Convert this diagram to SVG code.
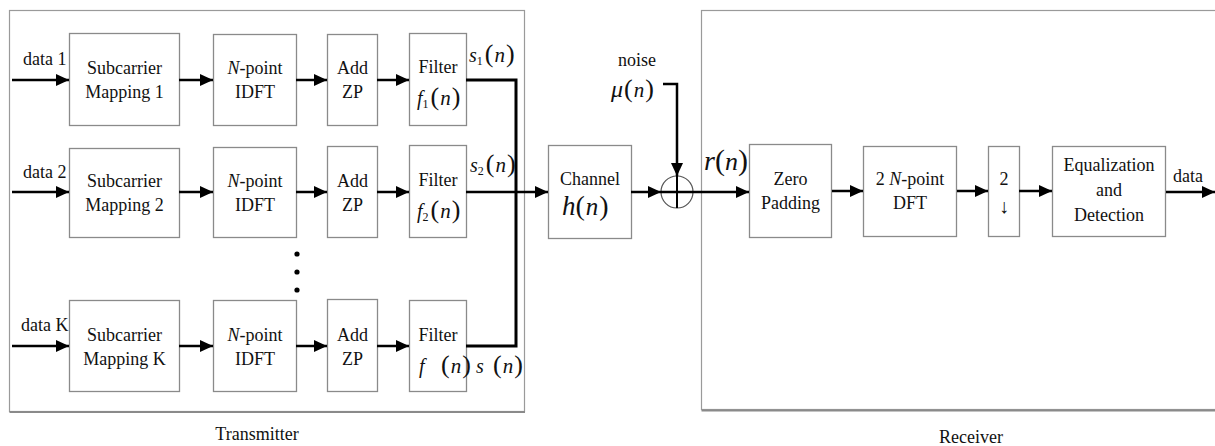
<svg xmlns="http://www.w3.org/2000/svg" width="1215" height="446" viewBox="0 0 1215 446" font-family="'Liberation Serif', 'DejaVu Serif', serif">
<style>
  text { font-family: "Liberation Serif", "DejaVu Serif", serif; fill: #111; }
  .t { font-size: 18px; }
  .c { text-anchor: middle; }
  .it { font-style: italic; }
  .box { fill: #fff; stroke: #8a8a8a; stroke-width: 1.3; }
  .frame { fill: none; stroke: #9a9a9a; stroke-width: 1.2; }
  .shadow { stroke: #8a8a8a; stroke-width: 2; }
  .wire { fill: none; stroke: #000; stroke-width: 2.5; }
  .arr { fill: none; stroke: #000; stroke-width: 2.5; marker-end: url(#ah); }
  .par { font-size: 26px; }
  .mn { font-size: 21px; font-style: italic; }
</style>
<defs>
  <marker id="ah" markerUnits="userSpaceOnUse" viewBox="0 0 13 12" refX="13" refY="6" markerWidth="13" markerHeight="12" orient="auto">
    <path d="M0,0 L13,6 L0,12 z" fill="#000"/>
  </marker>
</defs>
<rect width="1215" height="446" fill="#fff"/>

<!-- frames -->
<g id="transmitter">
  <rect class="frame" x="9.5" y="10.5" width="515" height="401"/>
  <line class="shadow" x1="9.5" y1="412" x2="525" y2="412"/>
  <text class="t c" x="257" y="440">Transmitter</text>
</g>
<g id="receiver">
  <rect class="frame" x="701.5" y="10.5" width="520" height="399"/>
  <line class="shadow" x1="701.5" y1="410.5" x2="1215" y2="410.5"/>
  <text class="t c" x="971" y="443">Receiver</text>
</g>

<!-- row 1 -->
<g id="sm1"><rect class="box" x="69.5" y="33.5" width="110" height="92"/>
  <text class="t c" x="124.5" y="74">Subcarrier</text><text class="t c" x="124.5" y="98">Mapping 1</text></g>
<g id="idft1"><rect class="box" x="213.5" y="34.5" width="83" height="91"/>
  <text class="t c" x="255" y="74"><tspan class="it">N</tspan>-point</text><text class="t c" x="255" y="98">IDFT</text></g>
<g id="zp1"><rect class="box" x="327.5" y="34.5" width="50" height="91"/>
  <text class="t c" x="352.5" y="74">Add</text><text class="t c" x="352.5" y="98">ZP</text></g>
<g id="filt1"><rect class="box" x="409.5" y="33.5" width="57" height="92"/>
  <text class="t c" x="438" y="73">Filter</text>
  <text x="417" y="105"><tspan class="it" font-size="20">f</tspan><tspan font-size="12" dy="3">1</tspan><tspan class="par" dy="-3" dx="2">(</tspan><tspan class="mn" dx="1">n</tspan><tspan class="par" dx="1">)</tspan></text></g>

<!-- row 2 -->
<g id="sm2"><rect class="box" x="69.5" y="148.5" width="110" height="89"/>
  <text class="t c" x="124.5" y="187">Subcarrier</text><text class="t c" x="124.5" y="211">Mapping 2</text></g>
<g id="idft2"><rect class="box" x="213.5" y="147.5" width="83" height="90"/>
  <text class="t c" x="255" y="187"><tspan class="it">N</tspan>-point</text><text class="t c" x="255" y="211">IDFT</text></g>
<g id="zp2"><rect class="box" x="327.5" y="146.5" width="50" height="91"/>
  <text class="t c" x="352.5" y="187">Add</text><text class="t c" x="352.5" y="211">ZP</text></g>
<g id="filt2"><rect class="box" x="409.5" y="145.5" width="57" height="92"/>
  <text class="t c" x="438" y="186">Filter</text>
  <text x="417" y="218"><tspan class="it" font-size="20">f</tspan><tspan font-size="12" dy="3">2</tspan><tspan class="par" dy="-3" dx="2">(</tspan><tspan class="mn" dx="1">n</tspan><tspan class="par" dx="1">)</tspan></text></g>

<!-- dots -->
<g id="ellipsis">
  <circle cx="297" cy="254" r="2.6" fill="#000"/>
  <circle cx="297" cy="272" r="2.6" fill="#000"/>
  <circle cx="297" cy="290" r="2.6" fill="#000"/>
</g>

<!-- row K -->
<g id="smK"><rect class="box" x="69.5" y="300.5" width="110" height="91"/>
  <text class="t c" x="124.5" y="341">Subcarrier</text><text class="t c" x="124.5" y="365">Mapping K</text></g>
<g id="idftK"><rect class="box" x="213.5" y="300.5" width="83" height="91"/>
  <text class="t c" x="255" y="341"><tspan class="it">N</tspan>-point</text><text class="t c" x="255" y="365">IDFT</text></g>
<g id="zpK"><rect class="box" x="327.5" y="299.5" width="50" height="92"/>
  <text class="t c" x="352.5" y="341">Add</text><text class="t c" x="352.5" y="365">ZP</text></g>
<g id="filtK"><rect class="box" x="409.5" y="300.5" width="57" height="91"/>
  <text class="t c" x="438" y="341">Filter</text>
  <text x="419" y="373" class="it" font-size="20">f</text>
  <text x="441" y="373"><tspan class="par">(</tspan><tspan class="mn" dx="1">n</tspan><tspan class="par" dx="1">)</tspan></text></g>

<!-- channel -->
<g id="channel"><rect class="box" x="548.5" y="145.5" width="83" height="93"/>
  <text class="t c" x="590" y="185">Channel</text>
  <text x="562" y="215"><tspan class="it" font-size="27">h</tspan><tspan font-size="28">(</tspan><tspan class="it" font-size="25" dx="1">n</tspan><tspan font-size="28" dx="1">)</tspan></text></g>

<!-- adder -->
<g id="adder">
  <circle cx="677" cy="192" r="16" fill="#fff" stroke="#555" stroke-width="1.2"/>
</g>

<!-- receiver blocks -->
<g id="zeropad"><rect class="box" x="749.5" y="144.5" width="82" height="93"/>
  <text class="t c" x="790.5" y="185">Zero</text><text class="t c" x="790.5" y="209">Padding</text></g>
<g id="dft"><rect class="box" x="863.5" y="146.5" width="93" height="90"/>
  <text class="t c" x="910" y="185">2 <tspan class="it">N</tspan>-point</text><text class="t c" x="910" y="209">DFT</text></g>
<g id="down2"><rect class="box" x="988.5" y="146.5" width="31" height="90"/>
  <text class="t c" x="1004" y="185">2</text><text class="c" font-size="20" x="1004" y="213">↓</text></g>
<g id="eq"><rect class="box" x="1052.5" y="146.5" width="113" height="90"/>
  <text class="t c" x="1109" y="171">Equalization</text><text class="t c" x="1109" y="196">and</text><text class="t c" x="1109" y="221">Detection</text></g>

<!-- labels -->
<g id="labels">
  <text class="t" x="23" y="65">data 1</text>
  <text class="t" x="23" y="178">data 2</text>
  <text class="t" x="21" y="331">data K</text>
  <text x="469" y="62"><tspan class="it" font-size="20">s</tspan><tspan font-size="12" dy="3">1</tspan><tspan class="par" dy="-3" dx="2">(</tspan><tspan class="mn" dx="1">n</tspan><tspan class="par" dx="1">)</tspan></text>
  <text x="470" y="172"><tspan class="it" font-size="20">s</tspan><tspan font-size="12" dy="3">2</tspan><tspan class="par" dy="-3" dx="2">(</tspan><tspan class="mn" dx="1">n</tspan><tspan class="par" dx="1">)</tspan></text>
  <text x="476" y="373" class="it" font-size="20">s</text>
  <text x="493" y="373"><tspan class="par">(</tspan><tspan class="mn" dx="1">n</tspan><tspan class="par" dx="1">)</tspan></text>
  <text class="t c" x="637" y="66">noise</text>
  <text x="611" y="97"><tspan class="it" font-size="24">μ</tspan><tspan class="par" dx="1">(</tspan><tspan class="mn" dx="1">n</tspan><tspan class="par" dx="1">)</tspan></text>
  <text x="704" y="170"><tspan class="it" font-size="28">r</tspan><tspan font-size="30">(</tspan><tspan class="it" font-size="26">n</tspan><tspan font-size="30">)</tspan></text>
  <text class="t" x="1173" y="182">data</text>
</g>

<!-- connectors -->
<g id="connectors">
  <line class="arr" x1="12" y1="80" x2="69" y2="80"/>
  <line class="arr" x1="179" y1="80" x2="213" y2="80"/>
  <line class="arr" x1="296" y1="80" x2="327" y2="80"/>
  <line class="arr" x1="377" y1="80" x2="409" y2="80"/>
  <line class="arr" x1="12" y1="192" x2="69" y2="192"/>
  <line class="arr" x1="179" y1="192" x2="213" y2="192"/>
  <line class="arr" x1="296" y1="192" x2="327" y2="192"/>
  <line class="arr" x1="377" y1="192" x2="409" y2="192"/>
  <line class="arr" x1="12" y1="346" x2="69" y2="346"/>
  <line class="arr" x1="179" y1="346" x2="213" y2="346"/>
  <line class="arr" x1="296" y1="346" x2="327" y2="346"/>
  <line class="arr" x1="377" y1="346" x2="409" y2="346"/>
  <polyline class="wire" points="466,80 516,80 516,346 466,346" style="stroke-width:3"/>
  <line class="arr" x1="466" y1="192" x2="548" y2="192"/>
  <line class="arr" x1="631" y1="192" x2="661" y2="192"/>
  <polyline class="arr" points="663,84 677,84 677,176"/>
  <line x1="677" y1="176" x2="677" y2="208" stroke="#000" stroke-width="2"/>
  <line class="arr" x1="661" y1="192" x2="749" y2="192"/>
  <line class="arr" x1="832" y1="191" x2="863" y2="191"/>
  <line class="arr" x1="957" y1="191" x2="988" y2="191"/>
  <line class="arr" x1="1019" y1="191" x2="1052" y2="191"/>
  <line class="arr" x1="1166" y1="192" x2="1215" y2="192"/>
</g>
</svg>
